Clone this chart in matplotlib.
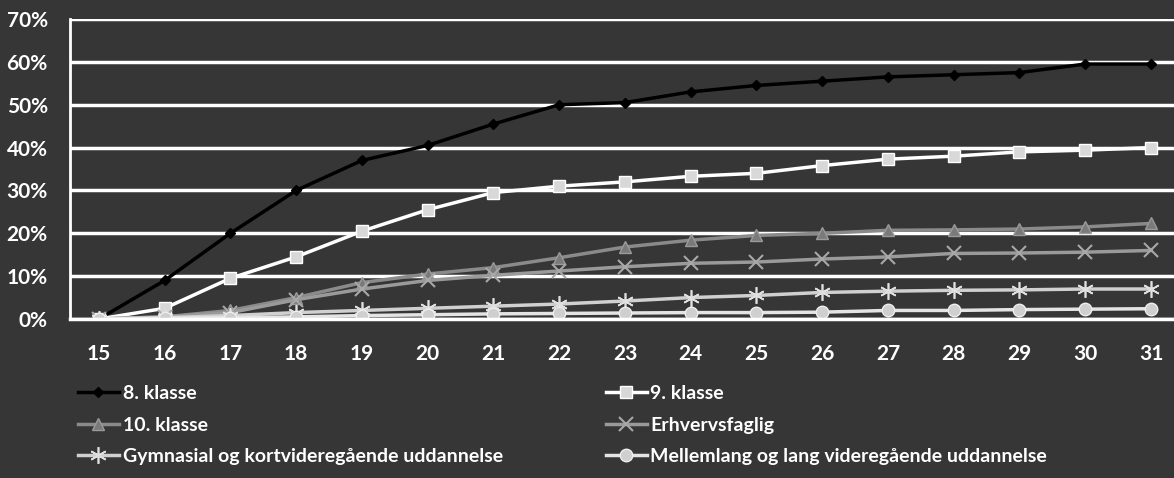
import matplotlib.pyplot as plt

ages = [15, 16, 17, 18, 19, 20, 21, 22, 23, 24, 25, 26, 27, 28, 29, 30, 31]

klasse8 = [0, 9, 20, 30, 37, 40.5, 45.5, 50, 50.5, 53, 54.5, 55.5, 56.5, 57, 57.5, 59.5, 59.5]
klasse9 = [0, 2.5, 9.5, 14.5, 20.5, 25.5, 29.5, 31, 32, 33.3, 34, 35.8, 37.3, 38, 39, 39.4, 40]
klasse10 = [0, 0.5, 2, 5, 8.5, 10.5, 12, 14.3, 16.8, 18.4, 19.5, 20, 20.7, 20.8, 21, 21.5, 22.3]
erhverv = [0, 0.5, 1.5, 4.5, 7, 9, 10.2, 11.2, 12.2, 13, 13.3, 14, 14.5, 15.3, 15.4, 15.6, 16]
gymnasial = [0, 0.3, 0.8, 1.5, 2, 2.5, 3, 3.5, 4.2, 5, 5.5, 6.2, 6.5, 6.7, 6.8, 7, 7]
mellemlang = [0, 0.2, 0.3, 0.5, 0.8, 1, 1.2, 1.3, 1.4, 1.5, 1.5, 1.6, 2, 2, 2.2, 2.3, 2.4]

names = ['8. klasse', '9. klasse', '10. klasse', 'Erhvervsfaglig',
         'Gymnasial og kortvideregående uddannelse',
         'Mellemlang og lang videregående uddannelse']
y_ticks = [0, 10, 20, 30, 40, 50, 60, 70]

bg = '#363636'
plt.rcParams['font.family'] = ['Lato', 'DejaVu Sans']
plt.rcParams['font.weight'] = 'bold'

fig = plt.figure(figsize=(11.74, 4.78), dpi=100, facecolor=bg)
ax = fig.add_axes([0.0596, 0.3326, 0.9404, 0.6276])
ax.set_facecolor(bg)

ax.plot(ages, klasse8, color='black', lw=2.5, marker='D', ms=5, mfc='black', mec='black', label=names[0])
ax.plot(ages, klasse9, color='white', lw=2.5, marker='s', ms=9, mfc='#d8d8d8', mec='white', label=names[1])
ax.plot(ages, klasse10, color='#8a8a8a', lw=2.5, marker='^', ms=8, mfc='#7a7a7a', mec='#9a9a9a', label=names[2])
ax.plot(ages, erhverv, color='#9a9a9a', lw=2.5, marker='x', ms=10, mew=1.5, mec='#a8a8a8', label=names[3])
ax.plot(ages, gymnasial, color='#d0d0d0', lw=2.5, marker=(6, 2, 0), ms=12, mew=1.2, mec='#e0e0e0', label=names[4])
ax.plot(ages, mellemlang, color='#e4e4e4', lw=2.5, marker='o', ms=9, mfc='#cfcfcf', mec='#eeeeee', label=names[5])

ax.set_xlim(14.56, 31.35)
ax.set_ylim(0, 70)
ax.set_xticks(ages)
ax.set_yticks(y_ticks)
ax.set_yticklabels([str(t) + '%' for t in y_ticks])
ax.grid(True, axis='y', color='white', lw=2.5)
ax.set_axisbelow(True)
ax.tick_params(length=0, colors='white', labelsize=15)
ax.tick_params(axis='x', pad=18)
ax.tick_params(axis='y', pad=16)
for side in ['top', 'right']:
    ax.spines[side].set_visible(False)
ax.spines['left'].set_color('white')
ax.spines['left'].set_linewidth(2)
ax.spines['bottom'].set_color('white')
ax.spines['bottom'].set_linewidth(2.5)

handles, labels = ax.get_legend_handles_labels()
order = [0, 2, 4, 1, 3, 5]
leg = fig.legend([handles[i] for i in order], [labels[i] for i in order],
                 loc='upper left', bbox_to_anchor=(0.058, 0.215), ncol=2, frameon=False,
                 fontsize=14, handlelength=2.1, handletextpad=0.2, labelspacing=0.75,
                 columnspacing=5.3, borderpad=0)
for t in leg.get_texts():
    t.set_color('white')

plt.savefig('out.png', facecolor=bg)
